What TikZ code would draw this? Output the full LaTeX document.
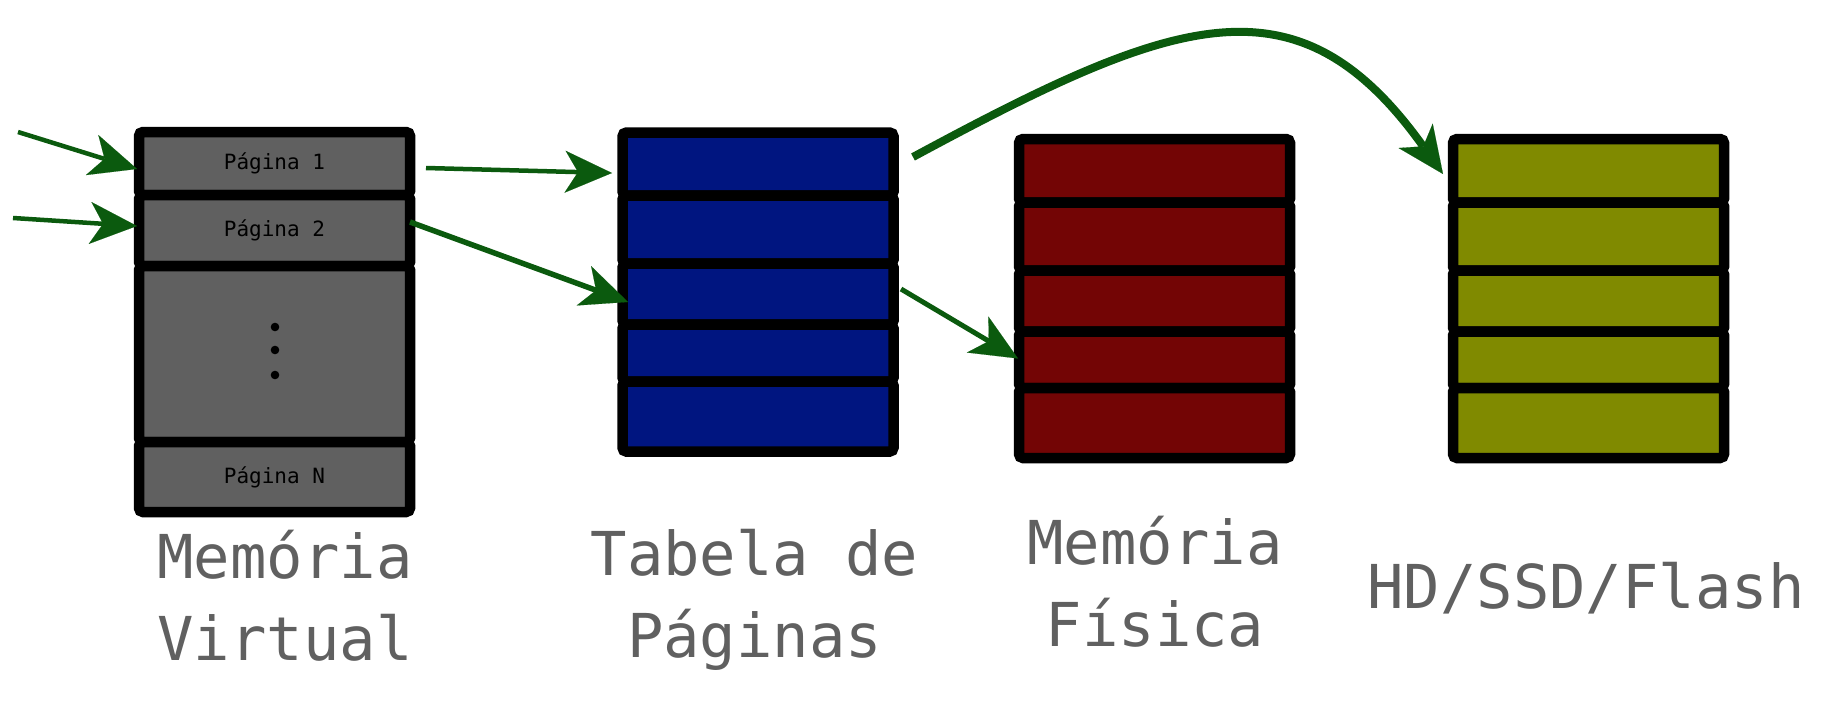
\documentclass[tikz,border=0pt]{standalone}
\usepackage{fontspec}
\setmonofont{DejaVu Sans Mono}
\usetikzlibrary{arrows.meta}
\definecolor{vgray}{HTML}{606060}
\definecolor{navy}{HTML}{001580}
\definecolor{dred}{HTML}{730505}
\definecolor{olive}{HTML}{808A00}
\definecolor{agreen}{HTML}{0B5A0E}
\definecolor{lgray}{HTML}{606060}
\begin{document}
\begin{tikzpicture}[x=1pt,y=-1pt,
  cell/.style={draw=black, line width=10.5pt, rounded corners=4pt,
    minimum width=271pt, inner sep=0pt, outer sep=0pt,
    font=\ttfamily\fontsize{21}{21}\selectfont},
  lbl/.style={text=lgray, font=\ttfamily\fontsize{60.5}{82}\selectfont,
    align=center, anchor=base, inner sep=0pt},
  arr/.style={draw=agreen, line width=5pt,
    -{Stealth[length=47pt, width=42pt, inset=13pt, line width=0.1pt, fill=agreen]}}
]
\useasboundingbox (0,0) rectangle (1836,717);

% Virtual memory
\node[cell, fill=vgray, minimum height=63pt] (v1) at (274.5,163.5) {Página 1};
\node[cell, fill=vgray, minimum height=71pt] (v2) at (274.5,230.5) {Página 2};
\node[cell, fill=vgray, minimum height=176pt] (v3) at (274.5,354) {};
\node[cell, fill=vgray, minimum height=70pt] (v4) at (274.5,477) {Página N};
\fill (275,327) circle (4.3);
\fill (275,350) circle (4.3);
\fill (275,375) circle (4.3);

% Page table
\node[cell, fill=navy, minimum height=63pt] (b1) at (758,164) {};
\node[cell, fill=navy, minimum height=68pt] (b2) at (758,229.5) {};
\node[cell, fill=navy, minimum height=61pt] (b3) at (758,294) {};
\node[cell, fill=navy, minimum height=57pt] (b4) at (758,353) {};
\node[cell, fill=navy, minimum height=70pt] (b5) at (758,416.6) {};

% Physical memory
\node[cell, fill=dred, minimum height=63.5pt] (r1) at (1154.5,170.75) {};
\node[cell, fill=dred, minimum height=68pt] (r2) at (1154.5,236.5) {};
\node[cell, fill=dred, minimum height=61pt] (r3) at (1154.5,301) {};
\node[cell, fill=dred, minimum height=56.5pt] (r4) at (1154.5,359.75) {};
\node[cell, fill=dred, minimum height=70pt] (r5) at (1154.5,423) {};

% Storage
\node[cell, fill=olive, minimum height=63.5pt] (g1) at (1588.5,170.75) {};
\node[cell, fill=olive, minimum height=68pt] (g2) at (1588.5,236.5) {};
\node[cell, fill=olive, minimum height=61pt] (g3) at (1588.5,301) {};
\node[cell, fill=olive, minimum height=56.5pt] (g4) at (1588.5,359.75) {};
\node[cell, fill=olive, minimum height=70pt] (g5) at (1588.5,423) {};

% Labels (anchor = baseline of the last line)
\node[lbl] (lv) at (285,660) {Memória\\Virtual};
\node[lbl] (lt) at (754.5,657) {Tabela de\\Páginas};
\node[lbl] (lf) at (1155,646) {Memória\\Física};
\node[lbl] (lh) at (1586,608) {HD/SSD/Flash};

% Arrows
\coordinate (in1) at (18,132);
\coordinate (in2) at (13,218);
\draw[arr, line width=4.5pt] (in1) -- ([xshift=-2pt,yshift=-5.5pt]v1.west);
\draw[arr, line width=4.5pt] (in2) -- ([xshift=-2pt,yshift=4.5pt]v2.west);
\draw[arr, line width=4.5pt] ([xshift=16pt,yshift=-4.5pt]v1.east) -- ([xshift=-10.5pt,yshift=-9pt]b1.west);
\draw[arr, line width=5.5pt] ([yshift=8.5pt]v2.east) -- ([xshift=5.5pt,yshift=-8pt]b3.west);
\draw[arr, line width=5pt] ([xshift=7.5pt,yshift=5pt]b3.east) -- ([xshift=-1pt,yshift=1.25pt]r4.west);
\draw[arr, line width=8pt] ([xshift=19.5pt,yshift=7pt]b1.east)
  .. controls +(264,-142.5) and +(-145,-202.5) .. ([xshift=-10pt,yshift=-3.25pt]g1.west);
\end{tikzpicture}
\end{document}
